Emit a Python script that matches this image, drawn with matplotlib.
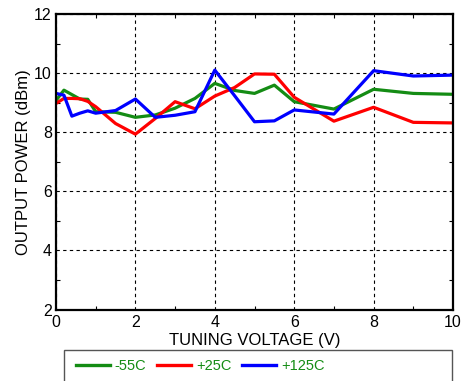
import matplotlib
matplotlib.use('Agg')
import matplotlib.pyplot as plt
from matplotlib.patches import Rectangle
from matplotlib.ticker import MultipleLocator

plt.rcParams['font.family'] = ['Liberation Sans', 'DejaVu Sans']

# tuning voltage (V)
volts = [0, 0.2, 0.4, 0.6, 0.8, 1, 1.5, 2, 2.5, 3, 3.5, 4, 4.5, 5, 5.5, 6, 7, 8, 9, 10]
# output power (dBm) per temperature
p_m55 = [9.08, 9.43, 9.28, 9.13, 9.12, 8.70, 8.68, 8.51, 8.59, 8.82, 9.15, 9.66,
         9.42, 9.32, 9.60, 9.04, 8.79, 9.46, 9.32, 9.29]
p_p25 = [8.98, 9.15, 9.15, 9.14, 9.05, 8.87, 8.30, 7.94, 8.47, 9.04, 8.80, 9.23,
         9.52, 9.98, 9.97, 9.19, 8.38, 8.85, 8.34, 8.32]
p_p125 = [9.32, 9.26, 8.55, 8.65, 8.73, 8.65, 8.74, 9.13, 8.51, 8.58, 8.70, 10.11,
          9.24, 8.36, 8.39, 8.76, 8.62, 10.09, 9.91, 9.94]
labels = ['-55C', '+25C', '+125C']
colors = ['#148c14', '#ff0000', '#0000ff']

W, H = 462, 381
fig = plt.figure(figsize=(W / 100, H / 100), dpi=100)
ax = fig.add_axes([56 / W, 1 - 309.5 / H, (453 - 56) / W, (309.5 - 14.3) / H])

lines = []
for ys, lab, c in zip([p_m55, p_p25, p_p125], labels, colors):
    ln, = ax.plot(volts, ys, color=c, lw=2.3, label=lab)
    lines.append(ln)

ax.set_xlim(0, 10)
ax.set_ylim(2, 12)
ax.xaxis.set_major_locator(MultipleLocator(2))
ax.yaxis.set_major_locator(MultipleLocator(2))
ax.xaxis.set_minor_locator(MultipleLocator(1))
ax.yaxis.set_minor_locator(MultipleLocator(1))
ax.tick_params(which='both', direction='in', top=True, right=True, labelsize=11.5)
ax.tick_params(which='major', length=0)
ax.tick_params(which='minor', length=3, width=0.8)
ax.tick_params(axis='x', pad=4)
ax.tick_params(axis='y', pad=3)
ax.grid(True, which='major', color='black', linestyle=(0, (3, 3)), lw=0.8)
for s in ax.spines.values():
    s.set_linewidth(1.6)
    s.set_color('black')

ax.set_xlabel('TUNING VOLTAGE (V)', fontsize=12, labelpad=2)
ax.set_ylabel('OUTPUT POWER (dBm)', fontsize=12, labelpad=2)

# legend box running off the bottom edge
fig.add_artist(Rectangle((64 / W, -0.05), (452 - 64) / W, (381 - 350) / H + 0.05,
                         transform=fig.transFigure, fill=False,
                         edgecolor='#555555', lw=1.0))
leg = fig.legend(handles=lines, loc='center left',
                 bbox_to_anchor=(76 / W, 1 - 366 / H), ncol=3, frameon=False,
                 fontsize=10.5, handlelength=2.3, handletextpad=0.35,
                 columnspacing=0.75, borderaxespad=0, borderpad=0)
for t in leg.get_texts():
    t.set_color('#148c14')
for h in leg.legend_handles:
    h.set_linewidth(2.4)

fig.savefig('out.png', dpi=100, facecolor='white')
